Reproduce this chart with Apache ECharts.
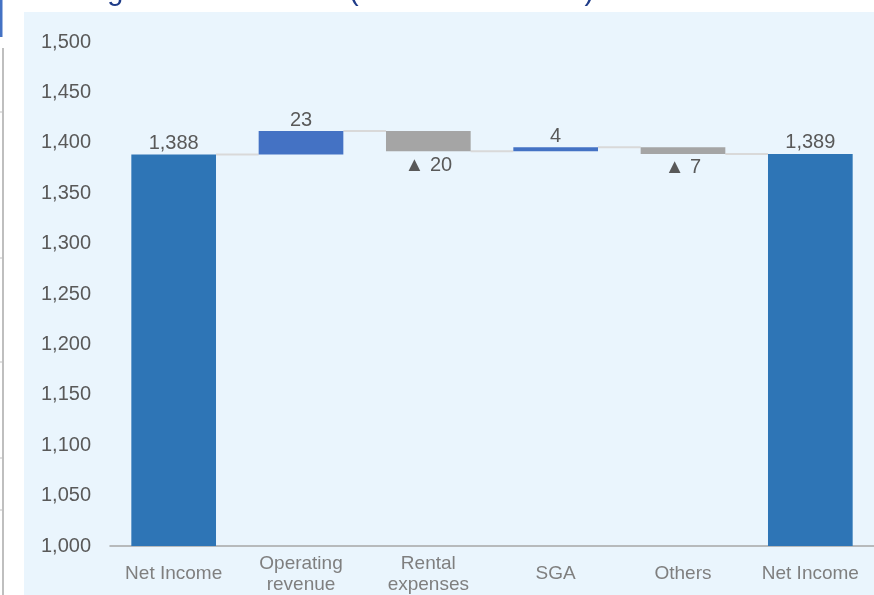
<!DOCTYPE html>
<html>
<head>
<meta charset="utf-8">
<script src="https://cdn.jsdelivr.net/npm/echarts@6/dist/echarts.min.js"></script>
<style>
  html, body { margin: 0; padding: 0; background: #fff; }
  #chart { width: 874px; height: 595px; }
</style>
</head>
<body>
<div id="chart"></div>
<script>
// categories and values
const categories = ['Net Income', 'Operating\nrevenue', 'Rental\nexpenses', 'SGA', 'Others', 'Net Income']
const values = [1388.4, 23.3, -20.2, 4.1, -6.6, 1389.0]
const kinds = ['total', 'delta', 'delta', 'delta', 'delta', 'total']
const yTicks = { min: 1000, max: 1500, interval: 50 }

const FONT = "Arial, 'Liberation Sans', sans-serif"
const colors = { total: '#2E75B6', up: '#4472C4', down: '#A5A5A5' }

// waterfall: transparent base + visible part
let running = 0
const bases = []
const heights = []
const levels = []
values.forEach((v, i) => {
  if (kinds[i] === 'total') {
    bases.push(0)
    heights.push(v)
    running = v
  } else {
    bases.push(v >= 0 ? running : running + v)
    heights.push(Math.abs(v))
    running += v
  }
  levels.push(running)
})

const fmtLabel = (i) => {
  const v = values[i]
  if (kinds[i] === 'total') return Math.round(v).toLocaleString('en-US')
  return v < 0 ? '▲ ' + Math.round(-v) : String(Math.round(v))
}

const visibleData = heights.map((h, i) => {
  let color = colors.total
  if (kinds[i] === 'delta') color = values[i] >= 0 ? colors.up : colors.down
  const below = kinds[i] === 'delta' && values[i] < 0
  return {
    value: h,
    itemStyle: { color },
    label: { position: below ? 'bottom' : 'top', distance: below ? 4 : 1 }
  }
})

const connectorData = levels.slice(0, -1).map((lv, i) => [i, lv])

const chart = echarts.init(document.getElementById('chart'))
chart.setOption({
  animation: false,
  textStyle: { fontFamily: FONT },
  graphic: [
    { type: 'rect', z: -10, shape: { x: 24, y: 12, width: 860, height: 600 }, style: { fill: '#EAF5FD' } },
    { type: 'rect', shape: { x: 0, y: 0, width: 2.5, height: 37 }, style: { fill: '#4472C4' } },
    { type: 'line', shape: { x1: 3, y1: 48, x2: 3, y2: 600 }, style: { stroke: '#BFBFBF', lineWidth: 2 } },
    { type: 'line', shape: { x1: 0, y1: 112, x2: 4, y2: 112 }, style: { stroke: '#BFBFBF', lineWidth: 1 } },
    { type: 'line', shape: { x1: 0, y1: 258, x2: 4, y2: 258 }, style: { stroke: '#BFBFBF', lineWidth: 1 } },
    { type: 'line', shape: { x1: 0, y1: 362, x2: 4, y2: 362 }, style: { stroke: '#BFBFBF', lineWidth: 1 } },
    { type: 'line', shape: { x1: 0, y1: 458, x2: 4, y2: 458 }, style: { stroke: '#BFBFBF', lineWidth: 1 } },
    { type: 'line', shape: { x1: 0, y1: 510, x2: 4, y2: 510 }, style: { stroke: '#BFBFBF', lineWidth: 1 } },
    {
      type: 'text', left: 38, top: -23,
      style: { text: 'Changes in Net Income (Non-consolidated)', font: '29px ' + FONT, fill: '#1F3C88' }
    }
  ],
  grid: { left: 110, right: -3, top: 42, bottom: 47 },
  xAxis: {
    type: 'category',
    data: categories,
    axisLine: { lineStyle: { color: '#A6A6A6', width: 1.5 } },
    axisTick: { show: false },
    axisLabel: {
      interval: 0, color: '#7F7F7F', fontSize: 19, lineHeight: 21,
      verticalAlign: 'middle', margin: 28
    }
  },
  yAxis: {
    type: 'value',
    min: yTicks.min, max: yTicks.max, interval: yTicks.interval,
    axisLine: { show: false },
    axisTick: { show: false },
    splitLine: { show: false },
    axisLabel: {
      color: '#595959', fontSize: 20, margin: 19,
      formatter: (v) => v.toLocaleString('en-US')
    }
  },
  series: [
    {
      type: 'bar', stack: 'w', barWidth: '66.5%', silent: true,
      itemStyle: { color: 'transparent' },
      data: bases
    },
    {
      type: 'bar', stack: 'w', barWidth: '66.5%',
      label: {
        show: true, color: '#595959', fontSize: 20,
        formatter: (p) => fmtLabel(p.dataIndex)
      },
      data: visibleData
    },
    {
      type: 'custom',
      z: 1,
      data: connectorData,
      encode: { x: 0, y: 1 },
      renderItem: (params, api) => {
        const p = api.coord([api.value(0), api.value(1)])
        const bw = api.size([1, 0])[0]
        const half = bw * 0.665 / 2
        return {
          type: 'line',
          shape: { x1: p[0] + half, y1: p[1], x2: p[0] + bw - half, y2: p[1] },
          style: { stroke: '#D9D9D9', lineWidth: 2 }
        }
      }
    }
  ]
})
</script>
</body>
</html>
